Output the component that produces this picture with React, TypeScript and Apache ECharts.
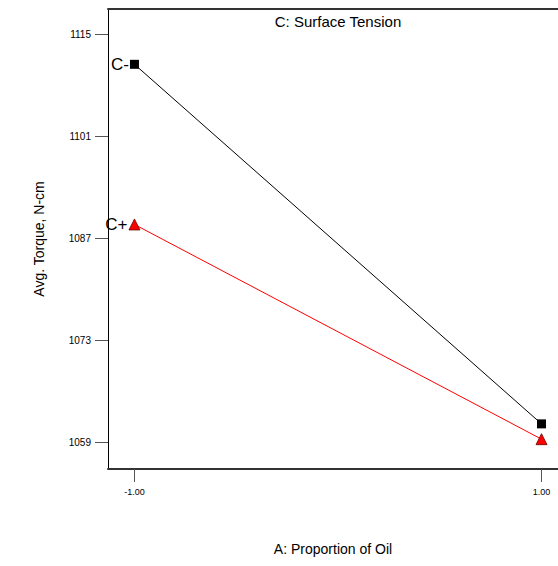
import React, { useEffect, useRef } from "react";
import * as echarts from "echarts";

// A: Proportion of Oil (coded levels)
const oilLevels = [-1, 1];
// Avg. Torque at each oil level, for the two surface tension levels
const torqueCMinus = [1110.9, 1061.5];
const torqueCPlus = [1088.9, 1059.4];
const seriesNames = ["C-", "C+"];
// axis tick positions
const xTicks = [-1, 1];
const yTicks = [1059, 1073, 1087, 1101, 1115];

const FONT = "Liberation Sans, Arial, sans-serif";

export default function App() {
  const ref = useRef<HTMLDivElement>(null);

  useEffect(() => {
    if (!ref.current) return;
    const chart = echarts.init(ref.current, null, { renderer: "svg" });

    const toPoints = (vals: number[]) => oilLevels.map((x, i) => [x, vals[i]]);

    chart.setOption({
      animation: false,
      backgroundColor: "#ffffff",
      textStyle: { fontFamily: FONT },
      title: {
        text: "C: Surface Tension",
        left: 333,
        top: 9,
        textAlign: "center",
        textStyle: { fontSize: 15, fontWeight: "normal", color: "#000", fontFamily: FONT },
      },
      grid: { left: 108, top: 9, right: 0, bottom: 97 },
      xAxis: [
        {
          type: "value",
          min: -1.13,
          max: 1.081,
          name: "A: Proportion of Oil",
          nameLocation: "middle",
          nameGap: 73,
          nameTextStyle: { fontSize: 14, color: "#000", fontFamily: FONT },
          axisLine: { show: true, onZero: false, lineStyle: { color: "#333", width: 2 } },
          axisTick: { show: true, length: 13, customValues: xTicks, lineStyle: { color: "#555", width: 1 } },
          axisLabel: {
            customValues: xTicks,
            margin: 18,
            fontSize: 9,
            color: "#000",
            fontFamily: FONT,
            formatter: (v: number) => v.toFixed(2),
          },
          splitLine: { show: false },
        },
        {
          type: "value",
          position: "top",
          min: -1.13,
          max: 1.081,
          axisLine: { show: true, onZero: false, lineStyle: { color: "#333", width: 2 } },
          axisTick: { show: false },
          axisLabel: { show: false },
          splitLine: { show: false },
        },
      ],
      yAxis: {
        type: "value",
        min: 1055.3,
        max: 1118.5,
        name: "Avg. Torque, N-cm",
        nameLocation: "middle",
        nameGap: 62,
        nameTextStyle: { fontSize: 14, color: "#000", fontFamily: FONT },
        axisLine: { show: true, onZero: false, lineStyle: { color: "#000", width: 1 } },
        axisTick: { show: true, length: 13, customValues: yTicks, lineStyle: { color: "#555", width: 1 } },
        axisLabel: {
          customValues: yTicks,
          margin: 17,
          fontSize: 10,
          color: "#000",
          fontFamily: FONT,
          formatter: (v: number) => String(v),
        },
        splitLine: { show: false },
      },
      series: [
        {
          name: seriesNames[0],
          type: "line",
          xAxisIndex: 0,
          data: toPoints(torqueCMinus),
          symbol: "rect",
          symbolSize: 9,
          itemStyle: { color: "#000" },
          lineStyle: { color: "#000", width: 1 },
          label: {
            show: true,
            position: "left",
            distance: 1,
            fontSize: 17,
            color: "#000",
            fontFamily: FONT,
            formatter: (p: any) => (p.dataIndex === 0 ? seriesNames[0] : ""),
          },
        },
        {
          name: seriesNames[1],
          type: "line",
          xAxisIndex: 0,
          data: toPoints(torqueCPlus),
          symbol: "triangle",
          symbolSize: 11,
          itemStyle: { color: "#ff0000", borderColor: "#600", borderWidth: 0.8 },
          lineStyle: { color: "#ff0000", width: 1 },
          label: {
            show: true,
            position: "left",
            distance: 1,
            fontSize: 17,
            color: "#000",
            fontFamily: FONT,
            formatter: (p: any) => (p.dataIndex === 0 ? seriesNames[1] : ""),
          },
        },
      ],
    });

    return () => chart.dispose();
  }, []);

  return (
    <div
      ref={ref}
      style={{ position: "fixed", left: 0, top: 0, width: 558, height: 566 }}
    />
  );
}
